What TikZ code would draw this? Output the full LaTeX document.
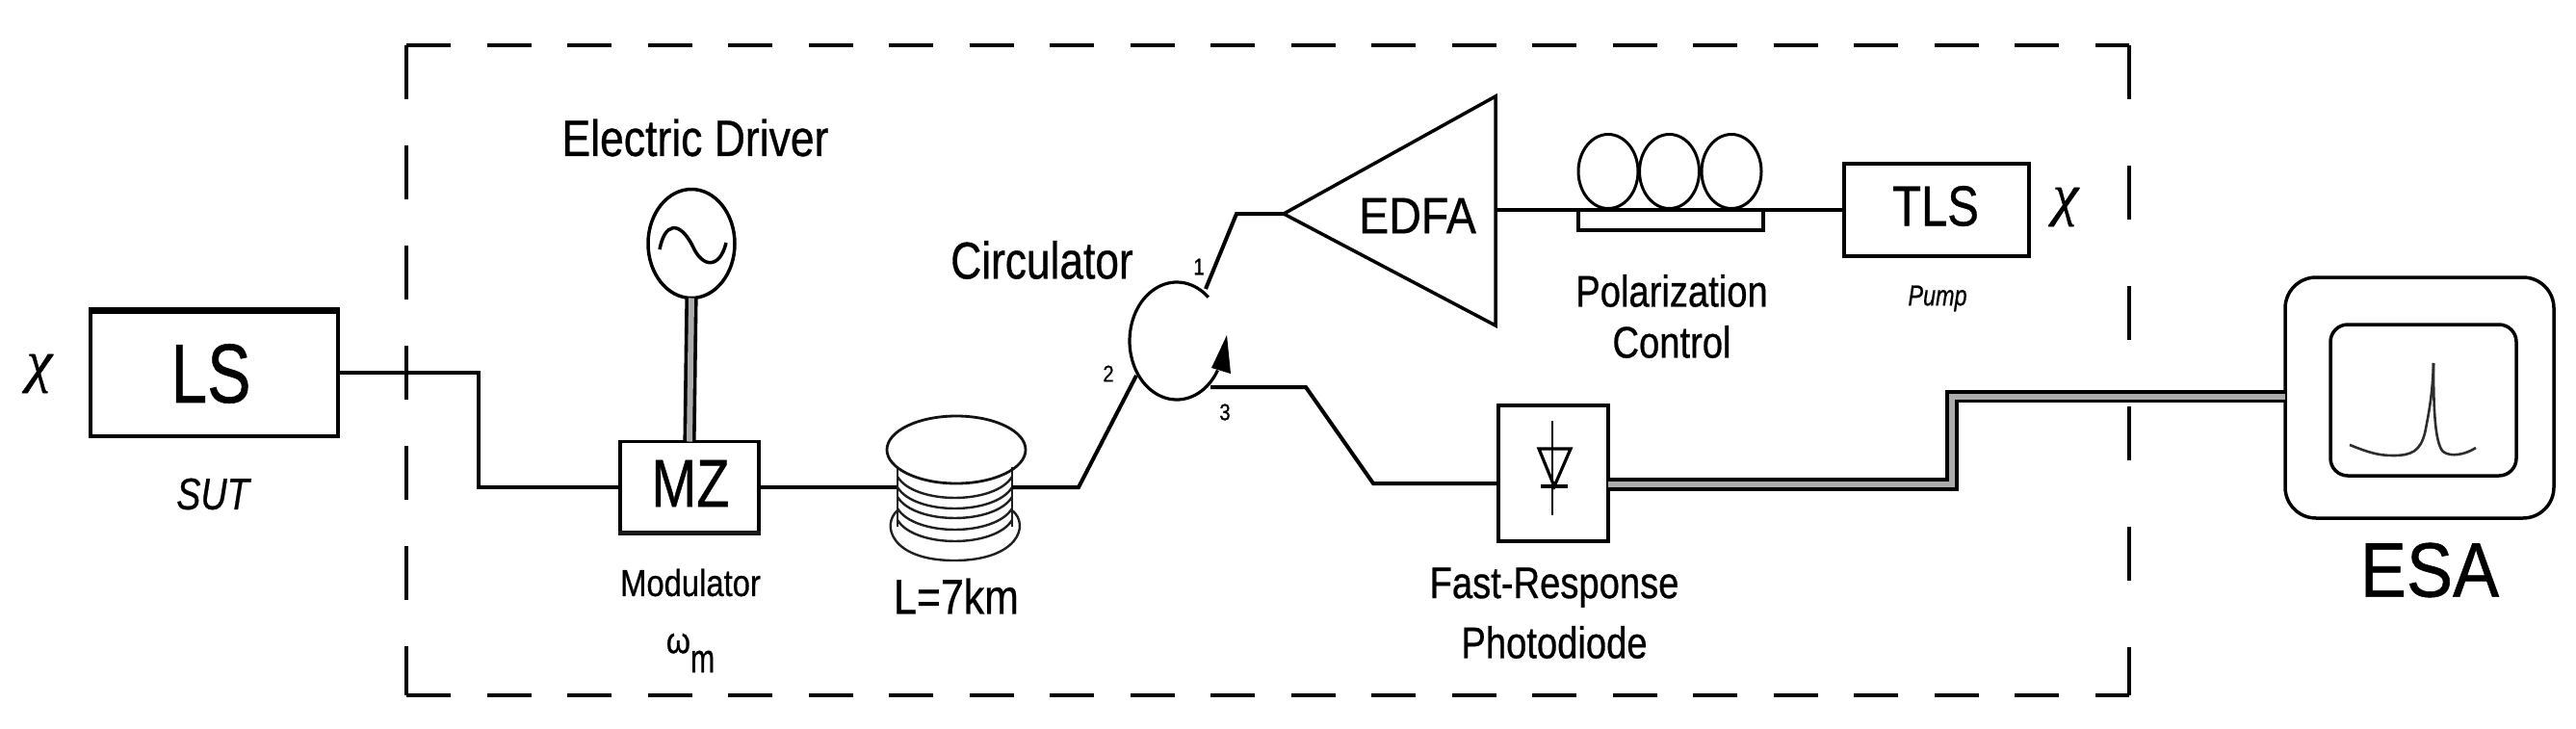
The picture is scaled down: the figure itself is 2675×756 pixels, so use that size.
\documentclass[tikz,border=0pt]{standalone}
\usepackage{graphicx}
\usepackage{fontspec}
\setmainfont{Liberation Sans}[FakeBold=0.7]
\newfontfamily\chifont{Liberation Serif}[FakeBold=0.7]
\newcommand{\T}[3]{\scalebox{#2}[1]{\fontsize{#1pt}{#1pt}\selectfont #3}}
\newcommand{\I}[3]{\scalebox{#2}[1]{\fontsize{#1pt}{#1pt}\selectfont\itshape #3}}
\usetikzlibrary{shapes.geometric}
\tikzset{
  every node/.style={inner sep=0pt,outer sep=0pt},
  boxn/.style={draw,line width=3.5pt,rectangle,fill=white},
  wire/.style={line width=4pt,line join=miter},
  dwire/.style={line width=3.6pt,double=gray!65,double distance=6pt,line join=miter},
  frameline/.style={line width=3.5pt},
  coilline/.style={line width=2.4pt,gray!25!black},
}
\begin{document}
\begin{tikzpicture}[x=1pt,y=-1pt]
\useasboundingbox (0,0) rectangle (2675,756);
\fill[white] (0,0) rectangle (2675,756);

% dashed frame
\coordinate (fa) at (422,47);
\coordinate (fb) at (2211,47);
\coordinate (fc) at (2211,722);
\coordinate (fd) at (422,722);
\draw[frameline,dash pattern=on 46pt off 37.5pt] (fa) -- (fb);
\draw[frameline,dash pattern=on 46pt off 37.5pt] (fd) -- (fc);
\draw[frameline,dash pattern=on 56pt off 48pt] (fa) -- (fd);
\draw[frameline,dash pattern=on 56pt off 69pt] (fb) -- (fc);

% main boxes
\node[boxn,minimum width=257pt,minimum height=132pt] (ls) at (222.5,387) {};
\draw[line width=6pt] (ls.north west) ++(-1.7,1.5) -- ++(260.4,0);
\node (lst) at (219,388) {\T{87}{.78}{LS}};
\node (chi1) at (41,388) {\chifont\itshape\fontsize{60pt}{60pt}\selectfont χ};
\node (sut) at (221,513) {\I{46}{.82}{SUT}};

\node[boxn,minimum width=144pt,minimum height=95pt] (mz) at (716,506) {};
\draw[line width=5pt,gray!20!black] (mz.south west) ++(-1.7,0) -- ++(147.4,0);
\node (mzt) at (717,502) {\T{70}{.8}{MZ}};
\node (mod) at (717,605) {\T{39}{.84}{Modulator}};
\node (om) at (717,678) {\T{38}{.85}{ω}\raisebox{-20pt}{\T{42}{.72}{m}}};

\node[draw,ellipse,line width=3.5pt,minimum width=90pt,minimum height=113pt] (osc) at (718,253) {};
\draw[line width=3.5pt] (685,259) .. controls (690,232) and (705,228) .. (719,255) .. controls (730,280) and (748,278) .. (754,252);
\node (drv) at (722,143) {\T{53}{.84}{Electric Driver}};

% wires on the left
\coordinate (k1) at (497,387);
\coordinate (k2) at (497,506);
\draw[wire] (ls.east) -- (k1) -- (k2) -- (mz.west);
\draw[dwire] (osc.south) -- (mz.north);

% fibre coil
\coordinate (cl) at (932,506);
\coordinate (cr) at (1051,506);
\node[ellipse,minimum width=144pt,minimum height=70pt] (coil) at (993,467) {};
\draw[wire] (mz.east) -- (cl);
\draw[coilline] (cl |- 0,530) .. controls (915,545) and (925,582) .. (991,582) .. controls (1057,582) and (1070,545) .. (cr |- 0,530);
\draw[coilline] (cl |- 0,485) -- (cl |- 0,547);
\draw[coilline] (cr |- 0,485) -- (cr |- 0,547);
\foreach \b in {517,528,538,550,562}{
  \draw[coilline] (932,\b-22) .. controls (950,\b+7.3) and (1033,\b+7.3) .. (1051,\b-22);
}
\draw[line width=2.8pt,gray!15!black] (coil) ellipse [x radius=72,y radius=35];
\node (len) at (993,619) {\T{51}{.84}{L=7km}};

% circulator
\node[ellipse,minimum width=98pt,minimum height=122pt] (circ) at (1222,354) {};
\draw[line width=3.2pt] plot[domain=48:330,samples=70] ({1222+49*cos(\x)},{354-61*sin(\x)});
\fill (1274,348) -- (1258,382) -- (1278,388) -- cycle;
\node (circt) at (1082,270) {\T{54}{.82}{Circulator}};
\node (n1) at (1245,277) {\T{24}{.85}{1}};
\node (n2) at (1151,388) {\T{24}{.85}{2}};
\node (n3) at (1272,428) {\T{24}{.85}{3}};
\coordinate (p1) at (1252,300);
\coordinate (p2) at (1180,390);
\coordinate (p3) at (1257,402);
\coordinate (c1) at (1284,222);
\coordinate (c2) at (1120,506);
\coordinate (c3) at (1356,402);
\coordinate (c4) at (1426,502);
\draw[wire] (cr) -- (c2) -- (p2);

% EDFA
\coordinate (etip) at (1333,222);
\coordinate (etop) at (1553,100);
\coordinate (ebot) at (1553,338);
\draw[line width=3.5pt,line join=miter] (etip) -- (etop) -- (ebot) -- cycle;
\node (edfat) at (1472,224) {\T{53}{.88}{EDFA}};
\draw[wire] (p1) -- (c1) -- (etip);

% polarization control
\node[draw,ellipse,line width=3pt,minimum width=62pt,minimum height=77pt] (l1) at (1670,178) {};
\node[draw,ellipse,line width=3pt,minimum width=62pt,minimum height=77pt] (l2) at (1733.5,178) {};
\node[draw,ellipse,line width=3pt,minimum width=62pt,minimum height=77pt] (l3) at (1798,178) {};
\draw[line width=4pt] (1639,218) -- (1639,239) -- (1831,239) -- (1831,218);
\node (pol) at (1736,302) {\T{46}{.83}{Polarization}};
\node (ctl) at (1736,355) {\T{46}{.83}{Control}};

% TLS
\node[boxn,minimum width=192pt,minimum height=96pt] (tls) at (2011,218) {};
\node (tlst) at (2010,214) {\T{59}{.83}{TLS}};
\node (chi2) at (2145,215) {\chifont\itshape\fontsize{60pt}{60pt}\selectfont χ};
\node (pump) at (2012,310) {\I{30}{.78}{Pump}};
\coordinate (eout) at (1553,218);
\draw[wire] (eout) -- (tls.west);

% photodiode
\node[boxn,minimum width=114pt,minimum height=141pt] (pd) at (1613,491.5) {};
\draw[line width=2.5pt] (1612,437) -- (1612,535);
\draw[line width=3.2pt] (1598,466) -- (1631,466) -- (1614,505) -- cycle;
\draw[line width=4pt] (1600,505) -- (1628,505);
\node (fr) at (1614,610) {\T{46}{.83}{Fast-Response}};
\node (ph) at (1614,667) {\T{46}{.83}{Photodiode}};
\coordinate (c5) at (pd.west |- c4);
\draw[wire] (p3) -- (c3) -- (c4) -- (c5);

% ESA
\node[draw,line width=3.5pt,rectangle,rounded corners=32pt,minimum width=279pt,minimum height=250pt] (esa) at (2512.5,413) {};
\node[draw,line width=3.5pt,rectangle,rounded corners=18pt,minimum width=193pt,minimum height=157pt] (scr) at (2516.5,415.5) {};
\draw[line width=2.6pt,gray!35!black] (2440,462) .. controls (2460,470) and (2470,473) .. (2485,473) .. controls (2505,473) and (2513,468) .. (2518,450) .. controls (2522,430) and (2526,410) .. (2527,377);
\draw[line width=2.6pt,gray!35!black] (2527,377) .. controls (2527,420) and (2528,460) .. (2537,469) .. controls (2545,475) and (2560,472) .. (2571,465);
\node (esat) at (2523,592) {\T{80}{.9}{ESA}};

% double electrical line
\coordinate (d0) at (pd.east |- 0,503);
\coordinate (d1) at (2027,503);
\coordinate (d2) at (2027,411.5);
\coordinate (d3) at (esa.west |- 0,411.5);
\draw[dwire] (d0) -- (d1) -- (d2) -- (d3);
\end{tikzpicture}
\end{document}
